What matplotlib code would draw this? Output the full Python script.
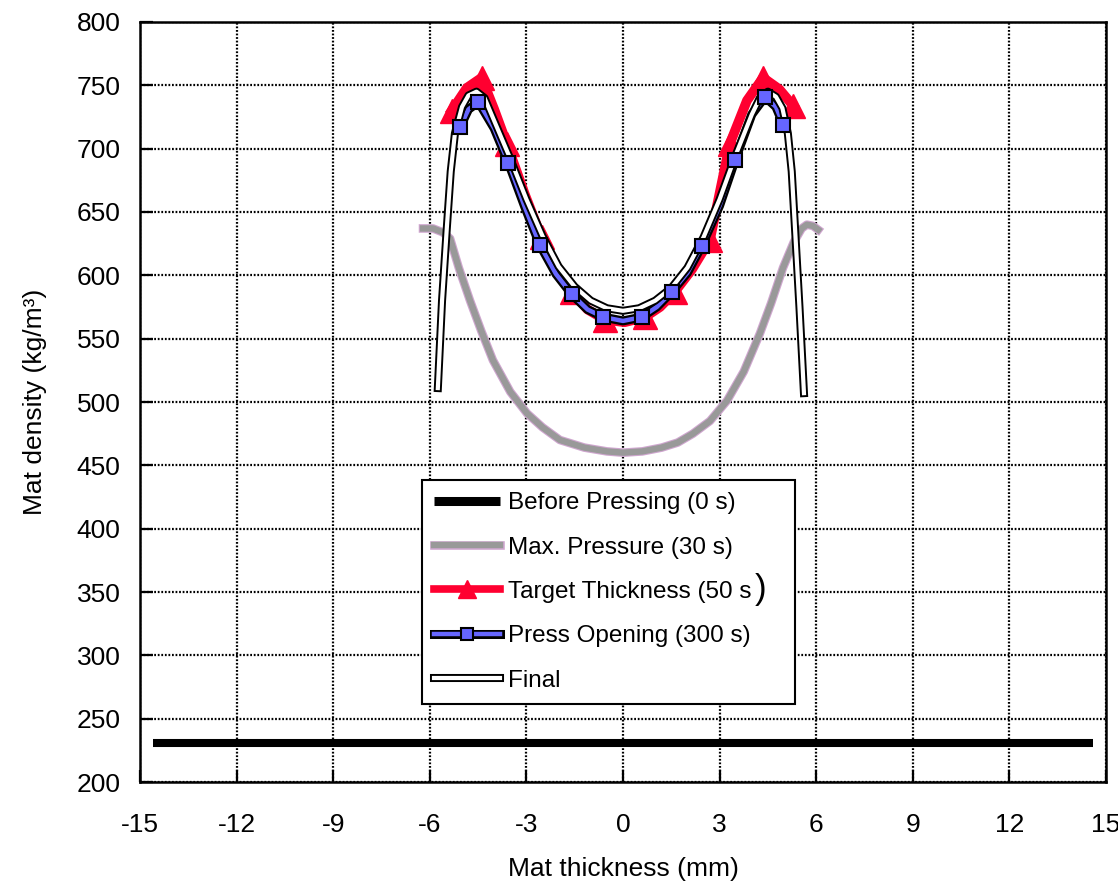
import matplotlib
matplotlib.use("Agg")
import matplotlib.pyplot as plt
import matplotlib.patheffects as pe
from matplotlib.lines import Line2D

plt.rcParams['font.family'] = ['Liberation Sans', 'DejaVu Sans']
plt.rcParams['axes.unicode_minus'] = False

# --- data (mm, kg/m3) ---
before_x = [-14.6, 14.6]
before_y = [231, 231]

maxp_x = [-6.21, -5.9, -5.6, -5.37, -5.1, -4.75, -4.4, -4.04, -3.5, -2.98, -2.5,
          -1.96, -1.2, -0.5, 0.0, 0.6, 1.2, 1.7, 2.17, 2.7, 3.23, 3.75, 4.25,
          4.6, 4.97, 5.3, 5.55, 5.71, 5.9, 6.06]
maxp_y = [637, 637, 634, 629, 606, 580, 556, 533, 508, 491, 480,
          470, 464, 461, 460, 461, 464, 468, 475, 485, 501, 524, 554,
          578, 606, 626, 637, 640, 639, 636]

target_x = [-5.32, -4.85, -4.39, -4.0, -3.61, -3.05, -2.53, -2.05, -1.59, -1.1,
            -0.56, 0.05, 0.68, 1.15, 1.61, 2.15, 2.7, 3.32, 3.85, 4.35, 4.85, 5.28]
target_y = [730, 748, 756, 731, 704, 664, 630, 604, 587, 573,
            565, 563, 567, 575, 587, 605, 628, 704, 738, 756, 747, 734]
target_marks = [0, 2, 4, 6, 8, 10, 12, 14, 16, 17, 19, 21]

press_x = [-5.06, -4.8, -4.49, -4.0, -3.56, -3.05, -2.58, -2.08, -1.59, -1.1, -0.61,
           0.0, 0.58, 1.05, 1.51, 2.0, 2.44, 3.0, 3.48, 4.0, 4.41, 4.75, 4.98]
press_y = [717, 731, 737, 716, 689, 654, 624, 601, 585, 573, 567,
           564, 567, 575, 587, 602, 623, 655, 691, 727, 741, 733, 719]
press_marks = [0, 2, 4, 6, 8, 10, 12, 14, 16, 18, 20, 22]

final_x = [-5.75, -5.62, -5.47, -5.35, -5.22, -5.0, -4.8, -4.55, -4.3, -4.0, -3.5,
           -3.0, -2.5, -2.0, -1.5, -1.0, -0.5, 0.0, 0.5, 1.0, 1.5, 2.0, 2.5, 3.0,
           3.5, 4.0, 4.25, 4.5, 4.75, 4.95, 5.12, 5.24, 5.34, 5.48, 5.62]
final_y = [511, 580, 638, 682, 712, 733, 742, 745, 740, 722, 692,
           660, 631, 607, 591, 580, 574, 572, 574, 580, 590, 606, 630, 660,
           695, 727, 740, 745, 741, 732, 712, 682, 638, 575, 507]

labels = ['Before Pressing (0 s)', 'Max. Pressure (30 s)', 'Target Thickness (50 s',
          'Press Opening (300 s)', 'Final']

RED = '#ff0030'
BLUE = '#6666ff'
GRAY = '#999999'

fig = plt.figure(figsize=(11.18, 8.86), dpi=100)
ax = fig.add_axes([140 / 1118, 1 - 782 / 886, 966 / 1118, 760 / 886])

gray_fx = [pe.Stroke(linewidth=6.2, foreground='#cfa6cf'), pe.Normal()]
blue_fx = [pe.Stroke(linewidth=6.5, foreground='black'), pe.Normal()]
white_fx = [pe.Stroke(linewidth=5.8, foreground='black'), pe.Normal()]

ax.plot(before_x, before_y, color='black', lw=5.8, solid_capstyle='butt', zorder=3)
ax.plot(maxp_x, maxp_y, color=GRAY, lw=4.6, path_effects=gray_fx, zorder=3)
ax.plot(target_x, target_y, color=RED, lw=7, solid_joinstyle='round', zorder=4)
ax.plot([target_x[i] for i in target_marks], [target_y[i] for i in target_marks],
        ls='none', marker='^', ms=17, color=RED, mec=RED, zorder=4)
ax.plot(press_x, press_y, color=BLUE, lw=3.2, path_effects=blue_fx, zorder=5)
ax.plot(final_x, final_y, color='white', lw=3.0, path_effects=white_fx, zorder=6)
ax.plot([press_x[i] for i in press_marks], [press_y[i] for i in press_marks],
        ls='none', marker='s', ms=10, color=BLUE, mec='black', mew=1.5, zorder=7)

ax.set_xlim(-15, 15)
ax.set_ylim(200, 800)
ax.set_xticks(range(-15, 16, 3))
ax.set_yticks(range(200, 801, 50))
ax.grid(True, color='black', lw=1.6, ls=(0, (0.8, 0.8)))
ax.set_axisbelow(True)
for s in ax.spines.values():
    s.set_linewidth(1.8)
ax.tick_params(direction='in', length=9, width=1.6, labelsize=19, top=False, right=False)
ax.tick_params(axis='x', pad=22)
ax.tick_params(axis='y', pad=14)
ax.set_xlabel('Mat thickness (mm)', fontsize=19, labelpad=15)
ax.set_ylabel('Mat density (kg/m³)', fontsize=19, labelpad=21)

marker_tri = Line2D([], [], ls='none', marker='^', ms=13, color=RED, mec=RED)
marker_sq = Line2D([], [], ls='none', marker='s', ms=9, color=BLUE, mec='black', mew=1.5)
handles = [
    Line2D([], [], color='black', lw=6.5, solid_capstyle='butt'),
    Line2D([], [], color=GRAY, lw=4.6, path_effects=gray_fx),
    (Line2D([], [], color=RED, lw=5.5), marker_tri),
    (Line2D([], [], color=BLUE, lw=3.2, path_effects=blue_fx), marker_sq),
    Line2D([], [], color='white', lw=3.0, path_effects=white_fx),
]
leg = ax.legend(handles, labels, loc='upper left',
                bbox_to_anchor=(422 / 1118, 178 / 886, 373 / 1118, 228 / 886),
                bbox_transform=fig.transFigure, mode='expand', fontsize=17.5,
                frameon=True, fancybox=False, framealpha=1, edgecolor='black',
                handlelength=2.7, handletextpad=0.35, labelspacing=0.92,
                borderpad=0.5, borderaxespad=0)
leg.get_frame().set_linewidth(1.5)
leg.set_zorder(10)

# larger closing bracket after the "Target Thickness" entry
fig.canvas.draw()
r = fig.canvas.get_renderer()
bb = leg.get_texts()[2].get_window_extent(r)
fig.text(bb.x1 + 3, (bb.y0 + bb.y1) / 2 + 2, ')', fontsize=25, va='center', ha='left',
         transform=None, zorder=11)

fig.savefig('out.png', dpi=100)
